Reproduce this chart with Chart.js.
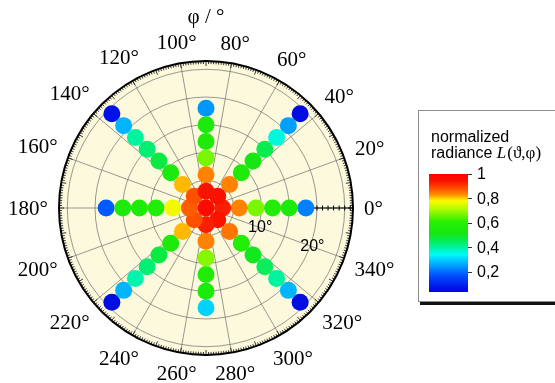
<!DOCTYPE html>
<html>
<head>
<meta charset="utf-8">
<script src="https://cdn.jsdelivr.net/npm/chart.js@4"></script>
<style>
  html, body { margin: 0; padding: 0; background: #fff; }
</style>
</head>
<body>
<canvas id="chart" width="555" height="383"></canvas>
<script>
// rays of the measurement (azimuth phi, degrees)
const phiDirections = [0, 45, 90, 135, 180, 225, 270, 315];
// polar angle theta of each step along a ray (degrees)
const thetaSteps = [0, 3, 6, 9, 12, 15, 18, 21, 24];

// normalized radiance, center point and steps 1..n along each ray
const radianceCenter = 0.97;
const radiancePhi0 = [0.93, 0.84, 0.67, 0.58, 0.55, 0.22];
const radiancePhi45 = [0.95, 0.84, 0.56, 0.52, 0.46, 0.36, 0.25, 0.05];
const radiancePhi90 = [0.94, 0.84, 0.67, 0.56, 0.55, 0.24];
const radiancePhi135 = [0.88, 0.81, 0.55, 0.47, 0.43, 0.40, 0.27, 0.06];
const radiancePhi180 = [0.87, 0.77, 0.58, 0.56, 0.55, 0.18];
const radiancePhi225 = [0.88, 0.81, 0.55, 0.47, 0.43, 0.39, 0.27, 0.05];
const radiancePhi270 = [0.93, 0.84, 0.68, 0.57, 0.55, 0.30];
const radiancePhi315 = [0.94, 0.85, 0.58, 0.50, 0.45, 0.40, 0.27, 0.05];
const radianceByPhi = [radiancePhi0, radiancePhi45, radiancePhi90, radiancePhi135,
                       radiancePhi180, radiancePhi225, radiancePhi270, radiancePhi315];

const phiTickValues = [0, 20, 40, 60, 80, 100, 120, 140, 160, 180, 200, 220, 240, 260, 280, 300, 320, 340];
const thetaTickValues = [10, 20];
const colorbarTicks = [1, 0.8, 0.6, 0.4, 0.2];
const colorbarTickLabels = ['1', '0,8', '0,6', '0,4', '0,2'];

const THETA_MAX = 26.5;
const PHI_RES = 5; // one radar label every 5 degrees

// colour map
const cmapStops = [
    [0.00, [0, 0, 200]],
    [0.06, [0, 16, 230]],
    [0.17, [0, 80, 255]],
    [0.25, [0, 160, 255]],
    [0.34, [0, 250, 250]],
    [0.42, [0, 240, 128]],
    [0.51, [20, 230, 20]],
    [0.61, [40, 240, 0]],
    [0.70, [160, 250, 0]],
    [0.78, [255, 250, 0]],
    [0.83, [255, 144, 0]],
    [0.88, [255, 80, 0]],
    [0.94, [250, 20, 0]],
    [1.00, [255, 0, 0]]
];

function cmap(v) {
    for (let i = 1; i < cmapStops.length; i++) {
        const [v1, c1] = cmapStops[i];
        const [v0, c0] = cmapStops[i - 1];
        if (v <= v1) {
            const t = (v - v0) / (v1 - v0);
            const c = c0.map((x, k) => Math.round(x + (c1[k] - x) * t));
            return `rgb(${c[0]},${c[1]},${c[2]})`;
        }
    }
    return 'rgb(255,0,0)';
}

// radar labels run clockwise from the right, phi runs counter-clockwise
const labelCount = 360 / PHI_RES;
const labels = [];
for (let i = 0; i < labelCount; i++) labels.push((360 - i * PHI_RES) % 360);
const indexOfPhi = phi => ((360 - phi) % 360) / PHI_RES;

// one dataset per step along the rays, center first so it is drawn on top
const datasets = [];
for (let k = 0; k < thetaSteps.length; k++) {
    const data = new Array(labelCount).fill(null);
    const colors = new Array(labelCount).fill('transparent');
    if (k === 0) {
        data[0] = thetaSteps[0];
        colors[0] = cmap(radianceCenter);
    } else {
        phiDirections.forEach((phi, d) => {
            const vals = radianceByPhi[d];
            if (vals.length >= k) {
                const idx = indexOfPhi(phi);
                data[idx] = thetaSteps[k];
                colors[idx] = cmap(vals[k - 1]);
            }
        });
    }
    datasets.push({
        label: 'step ' + k,
        data: data,
        showLine: false,
        fill: false,
        borderWidth: 0,
        borderColor: 'transparent',
        backgroundColor: 'transparent',
        pointRadius: 8.5,
        pointBorderWidth: 0,
        pointBorderColor: 'transparent',
        pointBackgroundColor: colors
    });
}

const polarDecor = {
    id: 'polarDecor',
    beforeDraw(chart) {
        const s = chart.scales.r;
        const ctx = chart.ctx;
        ctx.save();
        ctx.fillStyle = '#fcf9dc';
        ctx.beginPath();
        ctx.arc(s.xCenter, s.yCenter, s.drawingArea, 0, Math.PI * 2);
        ctx.fill();
        ctx.restore();
    },
    beforeDatasetsDraw(chart) {
        const s = chart.scales.r;
        const ctx = chart.ctx;
        const R = s.drawingArea;
        ctx.save();
        // outer ring
        ctx.strokeStyle = '#000';
        ctx.lineWidth = 2;
        ctx.beginPath();
        ctx.arc(s.xCenter, s.yCenter, R, 0, Math.PI * 2);
        ctx.stroke();
        // minor ticks on the ring, one per degree of phi
        ctx.lineWidth = 0.8;
        ctx.beginPath();
        for (let a = 0; a < 360; a++) {
            const rad = a * Math.PI / 180;
            const len = a % 10 === 0 ? 5 : 3;
            ctx.moveTo(s.xCenter + Math.cos(rad) * R, s.yCenter - Math.sin(rad) * R);
            ctx.lineTo(s.xCenter + Math.cos(rad) * (R - len), s.yCenter - Math.sin(rad) * (R - len));
        }
        ctx.stroke();
        // theta axis along phi = 0
        ctx.lineWidth = 1;
        ctx.beginPath();
        ctx.moveTo(s.xCenter, s.yCenter);
        ctx.lineTo(s.xCenter + R, s.yCenter);
        for (let t = 1; t < THETA_MAX; t++) {
            const x = s.xCenter + s.getDistanceFromCenterForValue(t);
            ctx.moveTo(x, s.yCenter - 2.5);
            ctx.lineTo(x, s.yCenter + 2.5);
        }
        ctx.stroke();
        ctx.restore();
    },
    afterDatasetsDraw(chart) {
        const s = chart.scales.r;
        const ctx = chart.ctx;
        ctx.save();
        ctx.fillStyle = '#000';
        ctx.textAlign = 'center';
        ctx.textBaseline = 'middle';
        // theta tick labels along phi = 340
        ctx.font = '16px "Liberation Sans", Arial, sans-serif';
        thetaTickValues.forEach(t => {
            const p = s.getPointPositionForValue(indexOfPhi(340), t + 0.4);
            ctx.fillText(t + '°', p.x, p.y);
        });
        // phi labels
        ctx.font = '21px "Liberation Serif", "Times New Roman", serif';
        phiTickValues.forEach(phi => {
            const txt = phi + '°';
            const w = ctx.measureText(txt).width;
            const rad = phi * Math.PI / 180;
            const off = s.drawingArea + 11 + Math.abs(Math.cos(rad)) * w / 2 + Math.abs(Math.sin(rad)) * 7;
            const p = s.getPointPosition(indexOfPhi(phi), off);
            ctx.fillText(txt, p.x, p.y + 1);
        });
        ctx.fillText('φ / °', s.xCenter, 17);
        ctx.restore();
    },
    afterDraw(chart) {
        const ctx = chart.ctx;
        ctx.save();
        // legend box with shadow
        ctx.fillStyle = '#111';
        ctx.fillRect(420, 112, 140, 193);
        ctx.fillStyle = '#fff';
        ctx.fillRect(418, 110, 140, 192);
        ctx.strokeStyle = '#8c8c8c';
        ctx.lineWidth = 1;
        ctx.strokeRect(418.5, 110.5, 140, 191);

        ctx.fillStyle = '#000';
        ctx.textAlign = 'left';
        ctx.textBaseline = 'alphabetic';
        ctx.font = '16px "Liberation Sans", Arial, sans-serif';
        ctx.fillText('normalized', 431, 142);
        ctx.fillText('radiance ', 431, 158);
        let x = 431 + ctx.measureText('radiance ').width;
        ctx.font = 'italic 17px "Liberation Serif", serif';
        ctx.fillText('L', x, 158);
        x += ctx.measureText('L').width + 1;
        ctx.font = '17px "Liberation Serif", serif';
        ctx.fillText('(ϑ,φ)', x, 158);

        // colour bar
        const top = 174, bottom = 292, bx = 429, bw = 39;
        const yOf = v => top + (1 - v) * 122;
        const vBottom = 1 - (bottom - top) / 122;
        const grad = ctx.createLinearGradient(0, bottom, 0, top);
        cmapStops.forEach(([v]) => {
            if (v >= vBottom) grad.addColorStop((v - vBottom) / (1 - vBottom), cmap(v));
        });
        grad.addColorStop(0, cmap(vBottom));
        ctx.fillStyle = grad;
        ctx.fillRect(bx, top, bw, bottom - top);

        ctx.strokeStyle = '#333';
        ctx.lineWidth = 1;
        ctx.beginPath();
        colorbarTicks.forEach(v => {
            const y = Math.round(yOf(v)) + 0.5;
            ctx.moveTo(bx + bw, y);
            ctx.lineTo(bx + bw + 4, y);
        });
        ctx.stroke();
        ctx.fillStyle = '#000';
        ctx.textBaseline = 'middle';
        ctx.font = '16px "Liberation Sans", Arial, sans-serif';
        colorbarTicks.forEach((v, i) => {
            ctx.fillText(colorbarTickLabels[i], 477, yOf(v) + 1);
        });
        ctx.restore();
    }
};

new Chart(document.getElementById('chart').getContext('2d'), {
    type: 'radar',
    data: { labels: labels, datasets: datasets },
    options: {
        responsive: false,
        animation: false,
        events: [],
        layout: { padding: { left: 59, top: 61, right: 202, bottom: 28 } },
        plugins: {
            legend: { display: false },
            tooltip: { enabled: false }
        },
        scales: {
            r: {
                min: 0,
                max: THETA_MAX,
                startAngle: 90,
                afterBuildTicks: scale => {
                    scale.ticks = [0, 5, 10, 15, 20, 25].map(v => ({ value: v }));
                },
                ticks: { display: false },
                pointLabels: { display: false },
                grid: { circular: true, color: '#6e6e6e', lineWidth: 0.7 },
                angleLines: {
                    color: '#6e6e6e',
                    lineWidth: ctx => (ctx.index % 4 === 0 ? 0.7 : 0)
                }
            }
        }
    },
    plugins: [polarDecor]
});
</script>
</body>
</html>
